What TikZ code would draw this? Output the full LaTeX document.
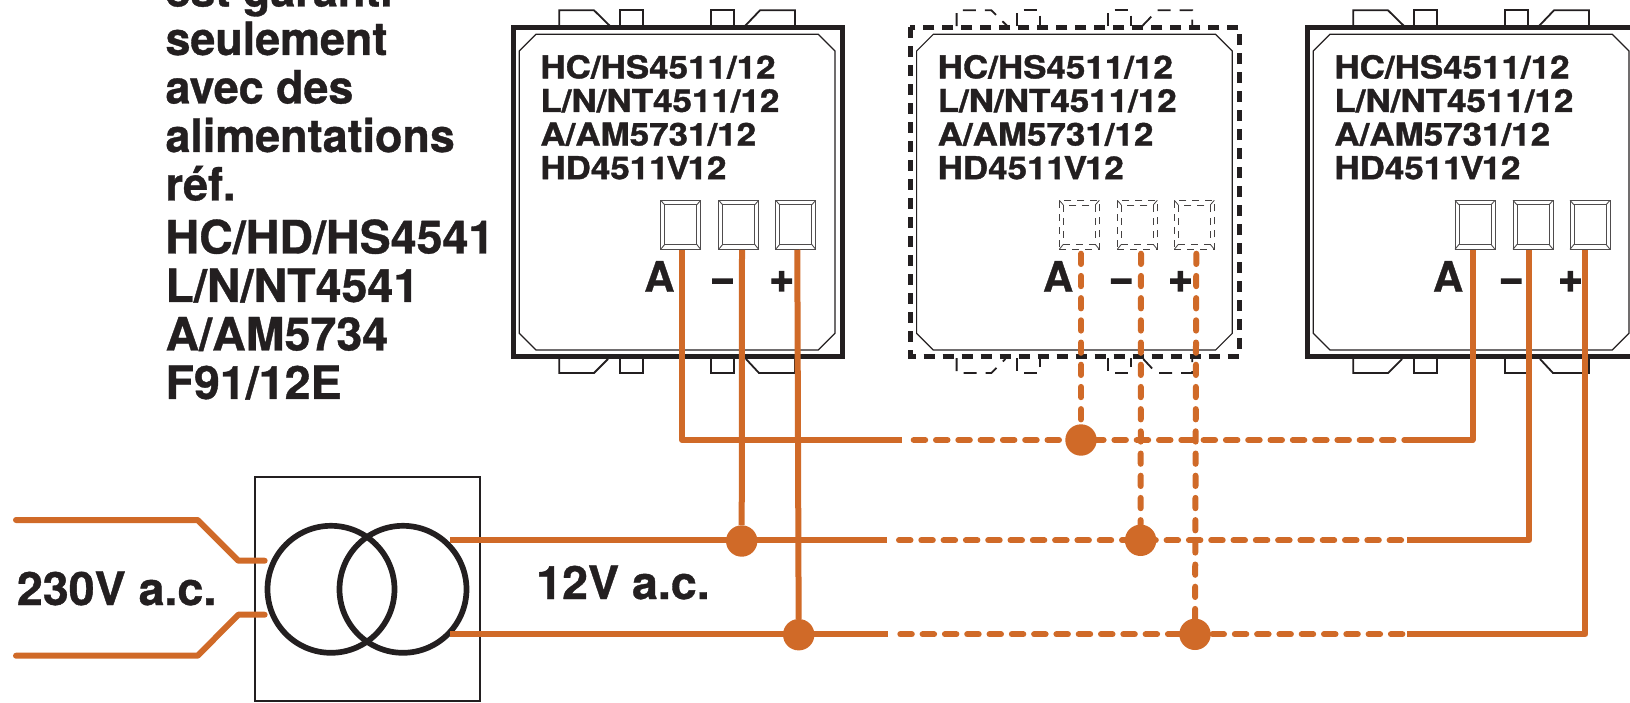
\documentclass[tikz,border=0pt]{standalone}
\usepackage{fontspec}
\setmainfont{TeX Gyre Heros}[BoldFeatures={FakeBold=0.8}]
\newfontfamily\devface{TeX Gyre Heros}[FakeStretch=1.11,BoldFeatures={FakeBold=1.2}]
\newfontfamily\capsface{TeX Gyre Heros}[FakeStretch=1.013,BoldFeatures={FakeBold=0.8}]
\newfontfamily\lowface{TeX Gyre Heros}[FakeStretch=0.975,BoldFeatures={FakeBold=0.8}]
\newfontfamily\signface{TeX Gyre Heros}[BoldFeatures={FakeBold=3}]
\definecolor{wireorange}{RGB}{208,106,40}
\definecolor{inkdark}{RGB}{35,31,32}
\tikzset{
  x=1pt,y=-1pt,
  devouter/.style={draw=inkdark,line width=5pt},
  devinner/.style={draw=inkdark,line width=1.2pt,line join=miter},
  devtab/.style={draw=inkdark,line width=1.8pt},
  termline/.style={draw=inkdark!80,line width=0.9pt},
  termbox/.style={termline,rectangle,minimum width=40pt,minimum height=49pt,inner sep=0pt},
  devtext/.style={anchor=north west,inner sep=0pt,align=left,text=inkdark,font=\devface\bfseries\fontsize{31.5}{33.6}\selectfont},
  bigtext/.style={anchor=base west,inner sep=0pt,text=inkdark,font=\capsface\bfseries\fontsize{46}{48.5}\selectfont},
  polelabel/.style={inner sep=0pt,text=inkdark,font=\bfseries\fontsize{42}{42}\selectfont},
  signlabel/.style={inner sep=0pt,text=inkdark,font=\signface\bfseries\fontsize{42}{42}\selectfont},
  wire/.style={draw=wireorange,line width=6pt,line join=round},
  wiredash/.style={draw=wireorange,line width=6pt,line cap=round,dash pattern=on 11.5pt off 10.8pt},
  wiredashv/.style={draw=wireorange,line width=6pt,line cap=round,dash pattern=on 10.3pt off 11.9pt},
  junction/.style={circle,fill=wireorange,minimum size=31.4pt,inner sep=0pt},
  coil/.style={circle,draw=inkdark,line width=5.7pt,minimum size=127pt,inner sep=0pt},
  housing/.style={rectangle,draw=inkdark,line width=2pt,minimum width=225.5pt,minimum height=224pt,inner sep=0pt},
  pics/device/.style={code={
    \draw[devouter] (513,27.3) rectangle (842.3,356);
    \draw[devinner] (536,34.3)--(818.3,34.3)--(835,51)--(835,333.3)--(818.3,350)--(536,350)--(519.3,333.3)--(519.3,51)--cycle;
    \draw[devtab] (559.3,26)--(559.3,10.3)--(594,10.3)--(610,26);
    \draw[devtab] (620,26)--(620,10.3)--(643,10.3)--(643,26);
    \draw[devtab] (711,26)--(711,10.3)--(734,10.3)--(734,26);
    \draw[devtab] (745,26)--(760,10.3)--(795,10.3)--(795,26);
    \draw[devtab] (559.3,358)--(559.3,373)--(594,373)--(608,359);
    \draw[devtab] (620,358)--(620,373)--(643,373)--(643,358);
    \draw[devtab] (711,358)--(711,373)--(734,373)--(734,358);
    \draw[devtab] (746,359)--(759,373)--(795,373)--(795,358);
    \node[devtext] (-txt) at (540.2,54.8) {HC/HS4511/12\\L/N/NT4511/12\\A/AM5731/12\\HD4511\kern-2.2pt V\kern-2.2pt 12};
    \foreach \tn/\tx in {a/680.7,m/738.7,p/795.7}{
      \node[termbox] (-\tn) at (\tx+#1,224.8) {};
      \draw[termline] (\tx+#1-16,204.9) rectangle (\tx+#1+16,244.4);
      \draw[termline] (\tx+#1-20,200.3)--(\tx+#1-16,204.9) (\tx+#1+20,200.3)--(\tx+#1+16,204.9)
                      (\tx+#1-20,249.3)--(\tx+#1-16,244.4) (\tx+#1+20,249.3)--(\tx+#1+16,244.4);
    }
  }},
}
\begin{document}
\begin{tikzpicture}
\useasboundingbox (0,0) rectangle (1630,702);
% note text
\node[anchor=north west,inner sep=0pt,align=left,text=inkdark,font=\bfseries\fontsize{46}{48.5}\selectfont] (note) at (165.3,-28)
 {\lowface est garanti\\\lowface seulement\\\lowface avec des\\\lowface alimentations\\\lowface réf.\\[4.5pt]\capsface HC/HD/HS4541\\\capsface L/N/NT4541\\\capsface A/AM5734\\\capsface F91/12E};
% devices
\pic (d1) at (0,0) {device={0}};
\begin{scope}[devouter/.style={draw=inkdark,line width=5pt,dash pattern=on 11pt off 8pt},
  devtab/.style={draw=inkdark,line width=1.8pt,dash pattern=on 13pt off 9pt},
  termline/.style={draw=inkdark!85,line width=0.8pt,dash pattern=on 7pt off 6pt}]
\pic (d2) at (397.3,0) {device={1.3}};
\end{scope}
\pic (d3) at (794,0) {device={0.3}};
% pole labels
\foreach \dv/\off in {1/0,2/398.7,3/788.7}{
  \node[polelabel,anchor=base west] (l\dv a) at (644+\off,291.7) {A};
  \node[signlabel,anchor=base] (l\dv m) at (722.5+\off,291.7) {−};
  \node[signlabel,anchor=base] (l\dv p) at (781.7+\off,291.7) {+};
}
% transformer
\node[housing] (box) at (367.4,588.7) {};
\coordinate (in1) at (16,520);
\coordinate (in2) at (16,655.7);
\coordinate (k1) at (197.7,520);
\coordinate (k2) at (238.3,560.7);
\coordinate (k3) at (197.7,655.7);
\coordinate (k4) at (238.3,614.7);
\node[coil] (c1) at (331,589.3) {};
\node[coil] (c2) at (403,589.3) {};
\draw[wire,line cap=round] (in1) -- (k1) -- (k2) -- (k2 -| c1.west);
\draw[wire,line cap=round] (in2) -- (k3) -- (k4) -- (k4 -| c1.west);
\coordinate (sm) at (450,540.3);
\coordinate (sp) at (450,634.3);
% junctions
\node[junction] (jm1) at (741.7,541) {};
\node[junction] (jp1) at (798.7,634.7) {};
\node[junction] (ja2) at (1081,440) {};
\node[junction] (jm2) at (1140.6,540.3) {};
\node[junction] (jp2) at (1195,634.3) {};
% bus ends
\coordinate (a1e) at (902,440);   \coordinate (a2s) at (913.7,440); \coordinate (a3s) at (1405,440);
\coordinate (m1e) at (887,540.3); \coordinate (m2s) at (899,540.3); \coordinate (m3s) at (1407,540.3);
\coordinate (p1e) at (888,634.3); \coordinate (p2s) at (900.3,634.3); \coordinate (p3s) at (1407,634.3);
% solid wires, first device
\draw[wire] ([xshift=1.3pt]d1-a.south) |- (a1e);
\draw[wire] ([xshift=3.3pt]d1-m.south) -- (jm1);
\draw[wire] ([xshift=1.6pt]d1-p.south) -- (jp1);
\draw[wire] (sm) -- (m1e);
\draw[wire] (sp) -- (p1e);
% dashed buses
\draw[wiredash] (a2s) -- (a3s);
\draw[wiredash] (m2s) -- (m3s);
\draw[wiredash] (p2s) -- (p3s);
% dashed drops, second device
\draw[wiredashv] ([xshift=1.7pt,yshift=-4pt]d2-a.south) -- (ja2);
\draw[wiredashv] ([xshift=3.7pt,yshift=-4pt]d2-m.south) -- (jm2);
\draw[wiredashv] ([xshift=2pt,yshift=-4pt]d2-p.south) -- (jp2);
% solid wires, third device
\draw[wire] ([xshift=-2.5pt]d3-a.south) |- (a3s);
\draw[wire] ([xshift=-4pt]d3-m.south) |- (m3s);
\draw[wire] ([xshift=-4.6pt]d3-p.south) |- (p3s);
% voltage labels
\node[bigtext] (v230) at (16.7,605) {230V a.c.};
\node[bigtext] (v12) at (536,599) {12V a.c.};
\end{tikzpicture}
\end{document}
